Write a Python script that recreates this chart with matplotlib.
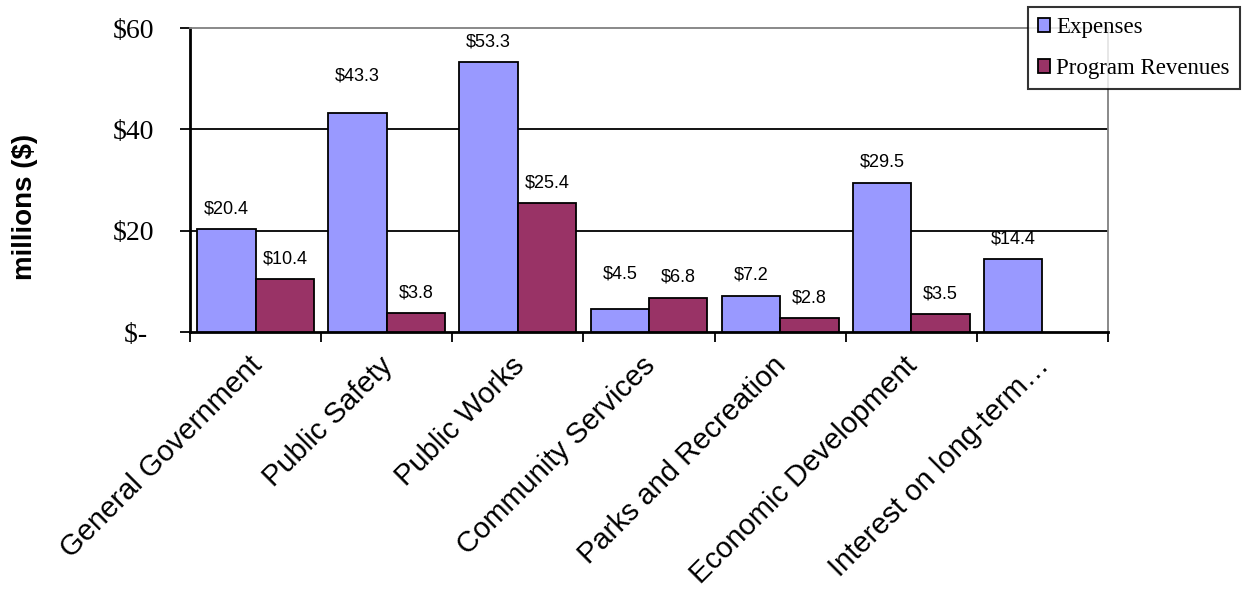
import numpy as np
import matplotlib
matplotlib.use('Agg')
import matplotlib.pyplot as plt
import matplotlib.transforms as mtrans

#--- data
categories = ['General Government', 'Public Safety', 'Public Works',
              'Community Services', 'Parks and Recreation',
              'Economic Development', 'Interest on long-term\u2026']
expenses = [20.4, 43.3, 53.3, 4.5, 7.2, 29.5, 14.4]
revenues = [10.4, 3.8, 25.4, 6.8, 2.8, 3.5, None]
y_ticks = [0, 20, 40, 60]
y_tick_labels = ['$- ', '$20', '$40', '$60']

c_exp = '#9999FF'
c_rev = '#993366'

fig = plt.figure(figsize=(12.43, 5.89), dpi=100)
ax = fig.add_axes([190/1243, 1 - 332/589, 918/1243, 304/589])

x = np.arange(len(categories))
w = 0.446

#--- bars
ax.bar(x - w/2, expenses, w, color=c_exp, edgecolor='black', linewidth=1.3,
       label='Expenses', zorder=3)
rev_x = [xi for xi, r in zip(x, revenues) if r is not None]
rev_v = [r for r in revenues if r is not None]
ax.bar(np.array(rev_x) + w/2, rev_v, w, color=c_rev, edgecolor='black',
       linewidth=1.3, label='Program Revenues', zorder=3)

#--- value labels (two raised like the original)
raise_exp = {1: 12, 3: 11}
for i, v in enumerate(expenses):
    ax.annotate('$%.1f' % v, (x[i] - w/2, v), xytext=(0, 14.5 + raise_exp.get(i, 0)),
                textcoords='offset points', ha='center', va='center',
                fontsize=13, family='Liberation Sans')
for xi, v in zip(rev_x, rev_v):
    ax.annotate('$%.1f' % v, (xi + w/2, v), xytext=(0, 14.5),
                textcoords='offset points', ha='center', va='center',
                fontsize=13, family='Liberation Sans')

#--- axes
ax.set_xlim(-0.5, len(categories) - 0.5)
ax.set_ylim(0, 60)
ax.set_yticks(y_ticks)
ax.set_yticklabels(y_tick_labels, family='Liberation Serif', fontsize=20)
ax.tick_params(axis='y', direction='out', length=7, width=1.3, pad=19)
for g in [20, 40]:
    ax.axhline(g, color='black', linewidth=1.3, zorder=1)

ax.set_xticks(x)
ax.set_xticklabels(categories, rotation=45, ha='right', rotation_mode='anchor',
                   family='Liberation Sans', fontsize=21)
ax.tick_params(axis='x', which='major', length=0, pad=14)
shift = mtrans.ScaledTranslation(-8/100, 0, fig.dpi_scale_trans)
for lab in ax.get_xticklabels():
    lab.set_transform(lab.get_transform() + shift)
ax.set_xticks(np.arange(len(categories) + 1) - 0.5, minor=True)
ax.tick_params(axis='x', which='minor', direction='out', length=7, width=1.3)

for s in ['left', 'bottom']:
    ax.spines[s].set_linewidth(2)
    ax.spines[s].set_color('black')
for s in ['top', 'right']:
    ax.spines[s].set_linewidth(1.3)
    ax.spines[s].set_color('#808080')

fig.text(25/1243, 1 - 207/589, 'millions ($)', rotation=90, ha='center',
         va='center', fontsize=20, fontweight='bold', family='Liberation Sans')

#--- legend
leg = fig.legend(loc='upper right', bbox_to_anchor=(1240/1243, 1 - 7/589),
                 prop={'family': 'Liberation Serif', 'size': 16.5},
                 frameon=True, fancybox=False, edgecolor='black',
                 handlelength=0.55, handleheight=0.55, handletextpad=0.25,
                 labelspacing=0.85, borderpad=0.45, borderaxespad=0)
leg.get_frame().set_linewidth(1.5)

plt.savefig('out.png', dpi=100)
